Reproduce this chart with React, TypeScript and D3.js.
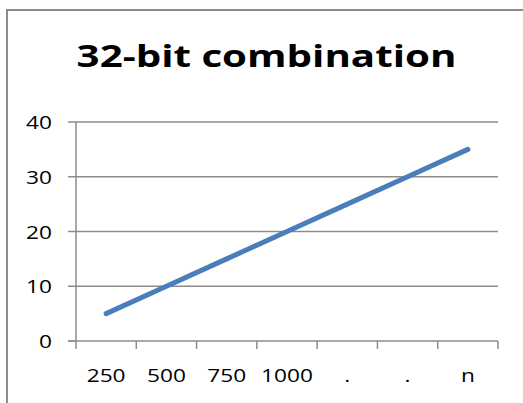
import React from "react";
import * as d3 from "d3";

const categories = ["250", "500", "750", "1000", ".", ".", "n"];
const values = [5, 10, 15, 20, 25, 30, 35];
const yTicks = [0, 10, 20, 30, 40];
const title = "32-bit combination";

const W = 523;
const H = 403;
const plot = { left: 76, right: 498, top: 122, bottom: 341 };
const SX = 1.26;
const TSX = 1.3;
const FONT = "'Open Sans', sans-serif";
const AXIS = "#8c8c8c";

export default function App() {
  const x = d3
    .scaleBand<number>()
    .domain(d3.range(categories.length))
    .range([plot.left, plot.right])
    .padding(0);
  const y = d3.scaleLinear().domain([0, 40]).range([plot.bottom, plot.top]);
  const line = d3
    .line<number>()
    .x((_, i) => (x(i) as number) + x.bandwidth() / 2)
    .y((d) => y(d));

  const boundaries = d3.range(categories.length + 1).map((i) =>
    i < categories.length ? (x(i) as number) : plot.right
  );

  return (
    <svg
      width={W}
      height={H}
      style={{ position: "absolute", left: 0, top: 0, background: "#fff" }}
    >
      <rect x={0} y={0} width={W} height={H} fill="#fff" />
      <rect x={7} y={10} width={700} height={700} fill="none" stroke={AXIS} strokeWidth={2} />
      <g transform={`translate(266.5,67) scale(${TSX},1)`}>
        <text
          textAnchor="middle"
          fontFamily={FONT}
          fontWeight={700}
          fontSize={31}
          fill="#000"
        >
          {title}
        </text>
      </g>
      {yTicks.map((t) => (
        <g key={`g${t}`}>
          {t > 0 && (
            <line
              x1={plot.left}
              x2={plot.right}
              y1={y(t)}
              y2={y(t)}
              stroke={AXIS}
              strokeWidth={1.5}
            />
          )}
          <line x1={plot.left - 8} x2={plot.left} y1={y(t)} y2={y(t)} stroke={AXIS} strokeWidth={1.5} />
          <g transform={`translate(52,${y(t) + 7}) scale(${SX},1)`}>
            <text textAnchor="end" fontFamily={FONT} fontSize={18} fill="#000">
              {t}
            </text>
          </g>
        </g>
      ))}
      <line x1={plot.left} x2={plot.left} y1={plot.top} y2={plot.bottom} stroke={AXIS} strokeWidth={1.5} />
      <line x1={plot.left - 8} x2={plot.right} y1={plot.bottom} y2={plot.bottom} stroke={AXIS} strokeWidth={1.5} />
      {boundaries.map((bx, i) => (
        <line key={`t${i}`} x1={bx} x2={bx} y1={plot.bottom} y2={plot.bottom + 8} stroke={AXIS} strokeWidth={1.5} />
      ))}
      {categories.map((c, i) => (
        <g
          key={`c${i}`}
          transform={`translate(${(x(i) as number) + x.bandwidth() / 2},382) scale(${SX},1)`}
        >
          <text textAnchor="middle" fontFamily={FONT} fontSize={18} fill="#000">
            {c}
          </text>
        </g>
      ))}
      <path
        d={line(values) || ""}
        fill="none"
        stroke="#4a7ebb"
        strokeWidth={5}
        strokeLinecap="round"
        strokeLinejoin="round"
      />
    </svg>
  );
}
